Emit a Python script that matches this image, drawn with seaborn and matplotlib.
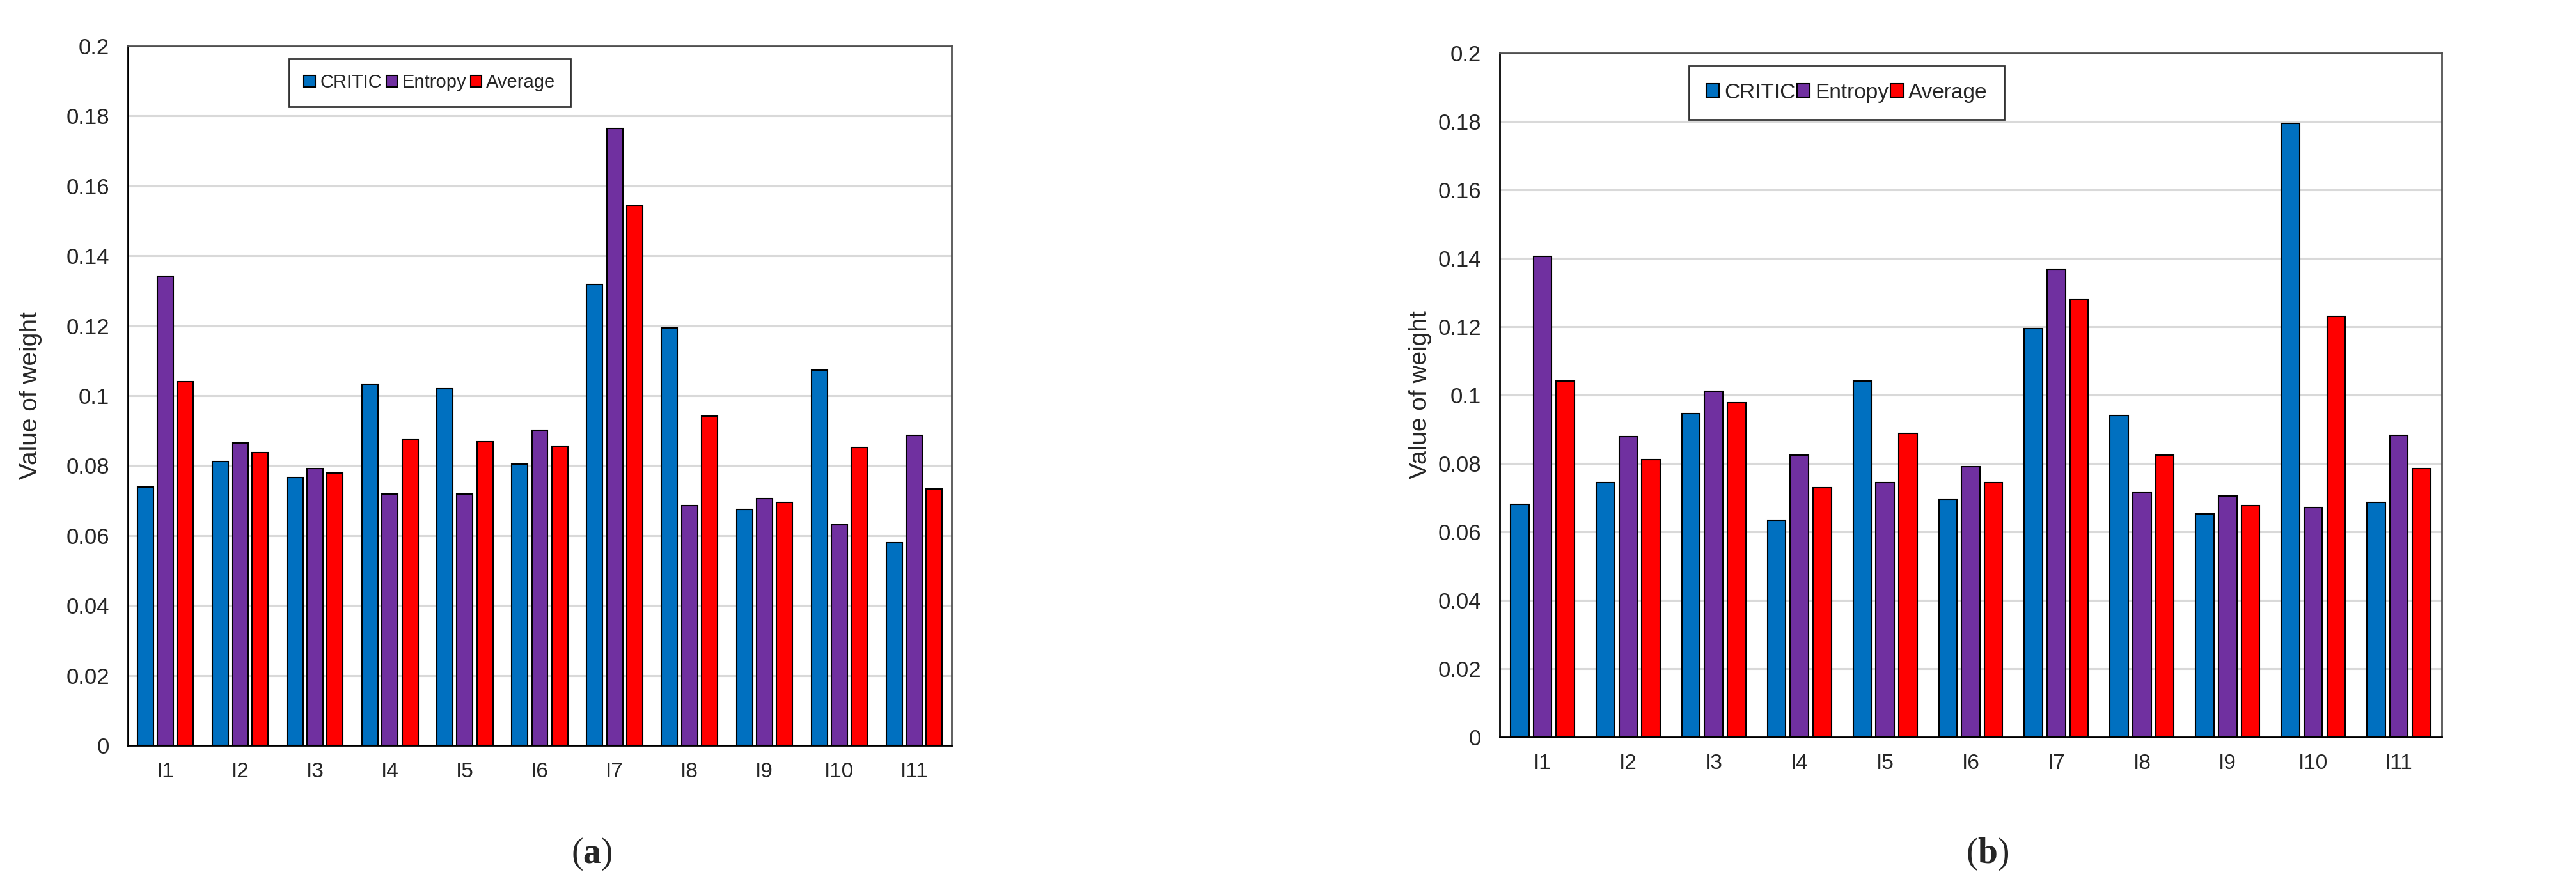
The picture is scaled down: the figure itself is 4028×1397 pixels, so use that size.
import matplotlib
matplotlib.use("Agg")
import matplotlib.pyplot as plt
import seaborn as sns
import pandas as pd

# ---------------- data ----------------
indicators = ["I1", "I2", "I3", "I4", "I5", "I6", "I7", "I8", "I9", "I10", "I11"]
methods = ["CRITIC", "Entropy", "Average"]

critic_a = [0.0738, 0.0811, 0.0766, 0.1033, 0.1021, 0.0804, 0.1318, 0.1194, 0.0674, 0.1073, 0.0579]
entropy_a = [0.1342, 0.0865, 0.0792, 0.0718, 0.0718, 0.0902, 0.1764, 0.0686, 0.0705, 0.0630, 0.0886]
average_a = [0.1040, 0.0838, 0.0779, 0.0875, 0.0869, 0.0855, 0.1543, 0.0941, 0.0694, 0.0852, 0.0734]

critic_b = [0.0681, 0.0743, 0.0945, 0.0633, 0.1041, 0.0695, 0.1194, 0.0940, 0.0652, 0.1794, 0.0686]
entropy_b = [0.1405, 0.0878, 0.1012, 0.0825, 0.0743, 0.0791, 0.1367, 0.0715, 0.0705, 0.0671, 0.0882]
average_b = [0.1041, 0.0811, 0.0978, 0.0729, 0.0887, 0.0743, 0.1280, 0.0825, 0.0676, 0.1230, 0.0785]

yticks = [0, 0.02, 0.04, 0.06, 0.08, 0.1, 0.12, 0.14, 0.16, 0.18, 0.2]
ylabel = "Value of weight"
captions = ["a", "b"]

palette = {"CRITIC": "#0070C0", "Entropy": "#7030A0", "Average": "#FF0000"}


def make_df(c, e, a):
    rows = []
    for m, vals in zip(methods, [c, e, a]):
        for ind, v in zip(indicators, vals):
            rows.append({"Indicator": ind, "Method": m, "Weight": v})
    return pd.DataFrame(rows)


df_a = make_df(critic_a, entropy_a, average_a)
df_b = make_df(critic_b, entropy_b, average_b)

# ---------------- style ----------------
sns.set_style("white")
plt.rcParams["font.family"] = ["Liberation Sans", "DejaVu Sans"]
plt.rcParams["mathtext.fontset"] = "custom"
plt.rcParams["mathtext.bf"] = "Liberation Serif:bold"
plt.rcParams["mathtext.rm"] = "Liberation Serif"

W, H = 4028, 1397
fig = plt.figure(figsize=(W / 100, H / 100), dpi=100)
fig.patch.set_facecolor("white")

# pixel boxes: left, right, top, bottom
boxes = [(200, 1488, 72, 1166), (2345, 3818, 83, 1153)]
legend_pos = [(452, 92, 440, 21), (2641, 103, 493, 24)]
ylabel_x = [-0.104, -0.072]
caption_x = [925, 3108]
dfs = [df_a, df_b]

for i, (df, (l, r, t, b)) in enumerate(zip(dfs, boxes)):
    ax = fig.add_axes([l / W, 1 - b / H, (r - l) / W, (b - t) / H])
    sns.barplot(data=df, x="Indicator", y="Weight", hue="Method",
                hue_order=methods, order=indicators, palette=palette,
                width=0.8, gap=0.2, edgecolor="black", linewidth=1.5,
                saturation=1, ax=ax, legend=True, zorder=3)
    ax.set_xlim(-0.5, len(indicators) - 0.5)
    ax.set_ylim(0, 0.2)
    ax.set_yticks(yticks)
    ax.set_yticklabels([f"{v:g}" for v in yticks])
    ax.set_xlabel("")
    ax.set_ylabel(ylabel, fontsize=28)
    ax.yaxis.set_label_coords(ylabel_x[i], 0.5)
    ax.yaxis.grid(True, color="#D9D9D9", linewidth=2.2, zorder=0)
    ax.xaxis.grid(False)
    ax.set_axisbelow(True)
    ax.tick_params(axis="y", length=0, labelsize=25, pad=21)
    ax.tick_params(axis="x", length=0, labelsize=24, pad=19)
    for side in ["left", "bottom"]:
        ax.spines[side].set_color("black")
        ax.spines[side].set_linewidth(2.0)
    for side in ["top", "right"]:
        ax.spines[side].set_color("#505050")
        ax.spines[side].set_linewidth(2.0)
        ax.spines[side].set_visible(True)

    handles, labels = ax.get_legend_handles_labels()
    if ax.get_legend() is not None:
        ax.get_legend().remove()
    lx, ly, lw, lfs = legend_pos[i]
    leg = fig.legend(handles, labels, loc="upper left",
                     bbox_to_anchor=(lx / W, 1 - ly / H - 0.01, lw / W, 0.01),
                     mode="expand", ncol=3, fontsize=lfs, frameon=True,
                     fancybox=False, shadow=False, handlelength=0.6,
                     handleheight=0.6, handletextpad=0.25,
                     columnspacing=0.5, borderpad=0.8, borderaxespad=0)
    leg.get_frame().set_edgecolor("black")
    leg.get_frame().set_linewidth(2.0)

    fig.text(caption_x[i] / W, 1 - 1336 / H, "(" + r"$\mathbf{" + captions[i] + "}$" + ")",
             ha="center", va="center", fontsize=40, family="Liberation Serif")

fig.savefig("out.png", dpi=100, facecolor="white")
